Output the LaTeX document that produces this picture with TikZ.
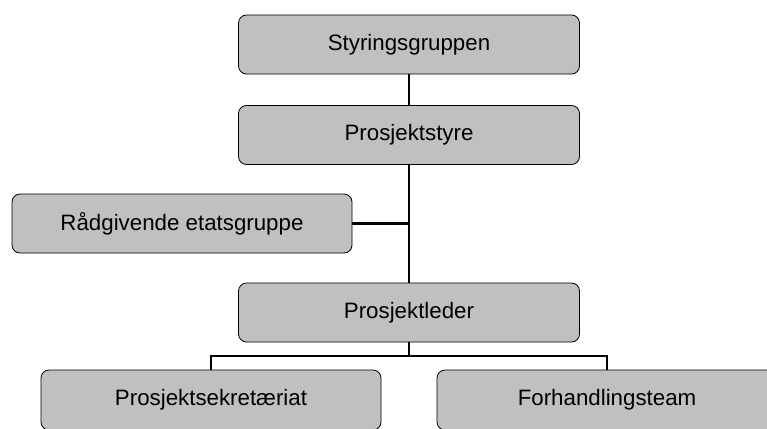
\documentclass[tikz,border=0pt]{standalone}
\usepackage{fontspec}
\setmainfont{Liberation Sans}
\definecolor{boxgray}{HTML}{C0C0C0}
\begin{document}
\begin{tikzpicture}[x=1pt,y=-1pt,
  box/.style={draw=black, line width=0.8pt, fill=boxgray, rounded corners=8pt,
    minimum width=341pt, minimum height=59pt, inner sep=0pt,
    font=\fontsize{22.3}{26}\selectfont},
  link/.style={line width=2.6pt}]
\useasboundingbox (0,0) rectangle (767,428);
\node[box] (sty) at (409,44.5) {Styringsgruppen};
\node[box] (pst) at (409,135) {Prosjektstyre};
\node[box, minimum width=340pt] (rad) at (182,223.5) {Rådgivende etatsgruppe};
\node[box] (led) at (409,312.5) {Prosjektleder};
\node[box, minimum width=340pt, minimum height=60pt] (sek) at (211,400) {Prosjektsekretæriat};
\node[box, minimum width=340pt, minimum height=60pt] (frh) at (607,400) {Forhandlingsteam};
\coordinate (bar) at (409,356);
\draw[link] (sty.south) -- (pst.north);
\draw[link] (pst.south) -- (led.north);
\draw[link] (rad.east) -- (rad.east -| pst.south);
\draw[link] (led.south) -- (bar);
\draw[link] (sek.north) |- (bar) -| (frh.north);
\end{tikzpicture}
\end{document}
